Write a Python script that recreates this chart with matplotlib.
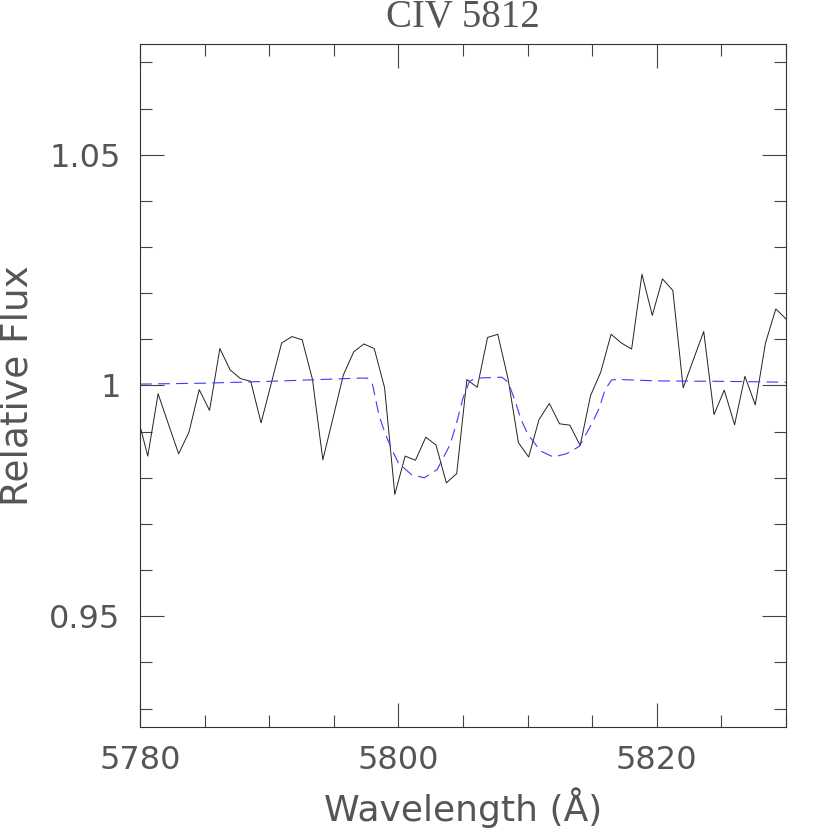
import matplotlib
matplotlib.use("Agg")
import matplotlib.pyplot as plt
from matplotlib.ticker import MultipleLocator, FixedFormatter, FixedLocator

wave = [5779.80, 5780.60, 5781.40, 5782.19, 5782.99, 5783.79, 5784.58, 5785.38,
        5786.18, 5786.97, 5787.77, 5788.57, 5789.37, 5790.16, 5790.96, 5791.76,
        5792.55, 5793.35, 5794.15, 5794.94, 5795.74, 5796.54, 5797.33, 5798.13,
        5798.93, 5799.72, 5800.52, 5801.32, 5802.12, 5802.91, 5803.71, 5804.51,
        5805.30, 5806.10, 5806.90, 5807.69, 5808.49, 5809.29, 5810.08, 5810.88,
        5811.68, 5812.47, 5813.27, 5814.07, 5814.87, 5815.66, 5816.46, 5817.26,
        5818.05, 5818.85, 5819.65, 5820.44, 5821.24, 5822.04, 5822.83, 5823.63,
        5824.43, 5825.22, 5826.02, 5826.82, 5827.62, 5828.41, 5829.21, 5830.01]
flux = [0.9934, 0.9847, 0.9982, 0.9917, 0.9852, 0.9899, 0.9991, 0.9946,
        1.0080, 1.0034, 1.0015, 1.0009, 0.9919, 1.0005, 1.0092, 1.0106,
        1.0099, 1.0013, 0.9839, 0.9930, 1.0023, 1.0073, 1.0090, 1.0080,
        0.9995, 0.9764, 0.9847, 0.9838, 0.9888, 0.9871, 0.9789, 0.9809,
        1.0013, 0.9996, 1.0104, 1.0111, 1.0014, 0.9876, 0.9845, 0.9926,
        0.9961, 0.9917, 0.9914, 0.9870, 0.9978, 1.0029, 1.0111, 1.0092,
        1.0079, 1.0241, 1.0152, 1.0231, 1.0206, 0.9995, 1.0056, 1.0117,
        0.9937, 0.9990, 0.9915, 1.0020, 0.9958, 1.0092, 1.0166, 1.0144]

# model profile
model_wave = [5780.0, 5785.0, 5790.0, 5795.0, 5797.0, 5797.6, 5798.0, 5798.5,
              5799.0, 5799.5, 5800.0, 5801.0, 5802.0, 5803.0, 5804.0, 5804.5,
              5805.0, 5805.5, 5806.0, 5808.0, 5808.5, 5809.0, 5809.5, 5810.0,
              5811.0, 5812.0, 5813.0, 5814.0, 5815.0, 5815.5, 5816.0, 5816.5,
              5817.0, 5820.0, 5825.0, 5828.0, 5830.0]
model_flux = [1.0003, 1.0005, 1.0009, 1.0014, 1.0016, 1.0016, 1.0002, 0.9935,
              0.9894, 0.9861, 0.9832, 0.9807, 0.9800, 0.9818, 0.9872, 0.9919,
              0.9973, 1.0009, 1.0016, 1.0018, 1.0007, 0.9969, 0.9926, 0.9895,
              0.9858, 0.9845, 0.9852, 0.9868, 0.9919, 0.9948, 0.9991, 1.0012,
              1.0013, 1.0010, 1.0009, 1.0008, 1.0007]

xticks = [5780, 5800, 5820]
yticks = [0.95, 1.0, 1.05]
ytick_labels = ["0.95", "1", "1.05"]

plt.rcParams["lines.scale_dashes"] = False
txt = "#555555"

fig = plt.figure(figsize=(8.3, 8.3), dpi=100)
ax = fig.add_axes([0.1687, 0.1241, 0.7783, 0.8229])

ax.plot(wave, flux, color="#222222", lw=0.7)
ax.plot(model_wave, model_flux, color="#3a3aff", lw=0.8, linestyle=(0, (8.5, 4.5)))

ax.set_xlim(5780, 5830)
ax.set_ylim(0.926, 1.074)

ax.xaxis.set_major_locator(FixedLocator(xticks))
ax.xaxis.set_minor_locator(MultipleLocator(5))
ax.yaxis.set_major_locator(FixedLocator(yticks))
ax.yaxis.set_major_formatter(FixedFormatter(ytick_labels))
ax.yaxis.set_minor_locator(MultipleLocator(0.01))

ax.tick_params(which="both", direction="in", top=True, right=True,
               color="#444444", width=0.8, labelsize=23, labelcolor=txt)
ax.tick_params(which="major", length=17)
ax.tick_params(which="minor", length=8.5)
ax.tick_params(axis="x", pad=13)
ax.tick_params(axis="y", pad=14)

for s in ax.spines.values():
    s.set_color("#333333")
    s.set_linewidth(0.8)

ax.set_xlabel("Wavelength (Å)", fontsize=26, color=txt, labelpad=8)
ax.set_ylabel("Relative Flux", fontsize=27, color=txt, labelpad=10)
ax.set_title("CIV 5812", fontsize=28, color=txt, family="Liberation Serif", pad=12)

fig.savefig("out.png", dpi=100)
